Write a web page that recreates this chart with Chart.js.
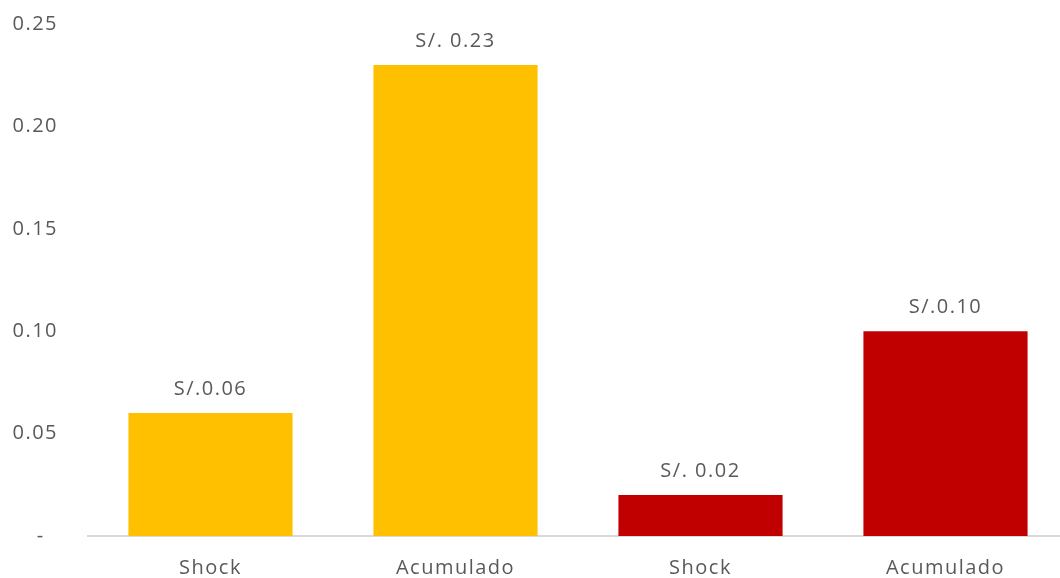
<!DOCTYPE html>
<html>
<head>
<meta charset="utf-8">
<script src="https://cdn.jsdelivr.net/npm/chart.js@4/dist/chart.umd.min.js"></script>
<style>
  html, body { margin: 0; padding: 0; background: #fff; overflow: hidden; }
  #wrap { width: 1068px; height: 598px; margin-top: -18px; }
</style>
</head>
<body>
<div id="wrap"><canvas id="chart"></canvas></div>
<script>
const categories = ['Shock', 'Acumulado', 'Shock', 'Acumulado'];
const values = [0.06, 0.23, 0.02, 0.10];
const valueLabels = ['S/.0.06', 'S/. 0.23', 'S/. 0.02', 'S/.0.10'];
const barColors = ['#FFC000', '#FFC000', '#C00000', '#C00000'];
const yTicks = [0, 0.05, 0.10, 0.15, 0.20, 0.25];
const yTickLabels = ['-  ', '0.05', '0.10', '0.15', '0.20', '0.25'];

const FONT = "'Open Sans', 'Noto Sans', sans-serif";
const TEXT = '#595959';
const SPACING = '1.5px';

// slightly wider text, closer to the office look
const spacing = {
  id: 'spacing',
  beforeUpdate(chart) { chart.ctx.letterSpacing = SPACING; },
  beforeDraw(chart) { chart.ctx.letterSpacing = SPACING; }
};

// value labels above each bar
const barLabels = {
  id: 'barLabels',
  afterDatasetsDraw(chart) {
    const ctx = chart.ctx;
    const meta = chart.getDatasetMeta(0);
    ctx.save();
    ctx.letterSpacing = SPACING;
    ctx.font = '20px ' + FONT;
    ctx.fillStyle = TEXT;
    ctx.textAlign = 'center';
    ctx.textBaseline = 'bottom';
    meta.data.forEach((bar, i) => {
      ctx.fillText(valueLabels[i], bar.x, bar.y - 14);
    });
    ctx.restore();
  }
};

new Chart(document.getElementById('chart'), {
  type: 'bar',
  data: {
    labels: categories,
    datasets: [{
      data: values,
      backgroundColor: barColors,
      barPercentage: 0.67,
      categoryPercentage: 1.0
    }]
  },
  options: {
    responsive: true,
    maintainAspectRatio: false,
    animation: false,
    layout: { padding: { top: -6, right: 0, bottom: -20, left: 0 } },
    plugins: {
      legend: { display: false },
      tooltip: { enabled: false }
    },
    scales: {
      x: {
        grid: { display: false, drawTicks: false },
        border: { color: '#D9D9D9', width: 2 },
        ticks: { color: TEXT, font: { family: FONT, size: 20 }, padding: 20 }
      },
      y: {
        min: 0,
        max: 0.25,
        afterBuildTicks(axis) {
          axis.ticks = yTicks.map(v => ({ value: v }));
        },
        afterFit(axis) { axis.width = 88; },
        grid: { display: false, drawTicks: false },
        border: { display: false },
        ticks: {
          color: TEXT,
          font: { family: FONT, size: 20 },
          padding: 30,
          callback: (v) => yTickLabels[yTicks.findIndex(t => Math.abs(t - v) < 1e-9)]
        }
      }
    }
  },
  plugins: [spacing, barLabels]
});
</script>
</body>
</html>
